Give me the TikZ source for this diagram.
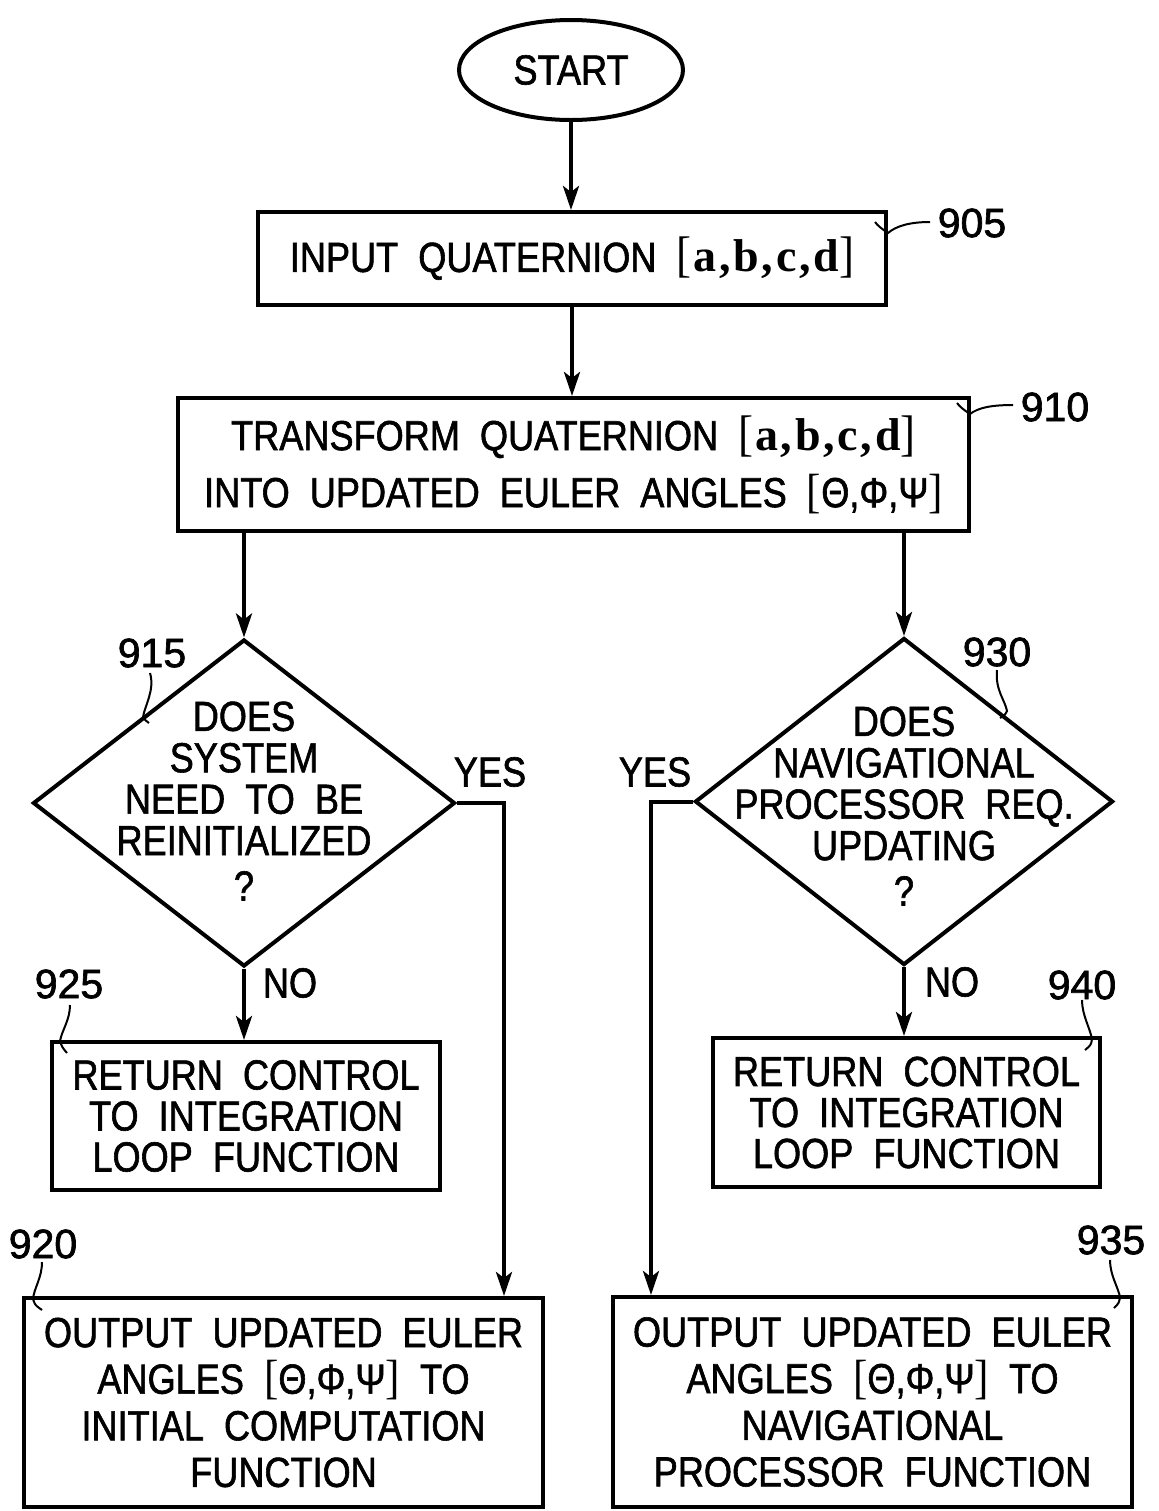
\documentclass[tikz,border=0pt]{standalone}
\usepackage{fontspec}
\setmainfont{Liberation Sans}[FakeStretch=0.86, WordSpace=2, FakeBold=1.4]
\newfontfamily\numfont{Liberation Sans}[FakeBold=1.6]
\newfontfamily\brfont{Liberation Serif}[FakeStretch=0.9]
\newfontfamily\brbfont{Liberation Serif Bold}[LetterSpace=6]
\usetikzlibrary{shapes.geometric, arrows.meta}
\newcommand\qbr[1]{{\fontsize{25}{25}\selectfont\brfont[\hspace{1pt}}{\fontsize{23}{25}\selectfont\brbfont #1}{\fontsize{25}{25}\selectfont\brfont]}}
\newcommand\ebr{{\fontsize{24}{24}\selectfont\brfont[}Θ,Φ,Ψ{\fontsize{24}{24}\selectfont\brfont]}}
\tikzset{
  box/.style={draw, line width=2pt, rectangle, inner sep=0pt, align=center, font=\fontsize{21}{23}\selectfont},
  dia/.style={draw, line width=2pt, diamond, inner sep=0pt},
  dtext/.style={align=center, inner sep=0pt, font=\fontsize{21}{20.7}\selectfont},
  lbl/.style={font=\numfont\fontsize{20.5}{24}\selectfont, inner sep=0pt},
  yn/.style={font=\fontsize{21}{24}\selectfont, inner sep=0pt},
  arr/.style={line width=2pt, -{Stealth[length=12pt,width=8pt,inset=3pt]}},
  lead/.style={line width=1pt},
  plain/.style={line width=2pt}
}
\begin{document}
\begin{tikzpicture}[x=0.5pt,y=-0.5pt]
\useasboundingbox (0,0) rectangle (1158,1511);
% nodes
\node[draw, ellipse, line width=2pt, minimum width=112pt, minimum height=50pt, inner sep=0pt, font=\fontsize{21}{24}\selectfont] (start) at (571,70) {START};
\node[box, minimum width=314pt, minimum height=46.5pt] (b905) at (572,258.5) {INPUT QUATERNION \qbr{a,b,c,d}};
\node[box, minimum width=395.5pt, minimum height=66.5pt, font=\fontsize{21}{28.5}\selectfont] (b910) at (573.5,464.5) {TRANSFORM QUATERNION \qbr{a,b,c,d}\\INTO UPDATED EULER ANGLES \ebr};
\node[dia, minimum width=211pt, minimum height=163.5pt] (d915) at (244,803) {};
\node[dtext] (t915) at (244,801) {DOES\\SYSTEM\\NEED TO BE\\REINITIALIZED\\[2pt]?};
\node[dia, minimum width=209pt, minimum height=163.5pt] (d930) at (904,801.5) {};
\node[dtext] (t930) at (904,806) {DOES\\NAVIGATIONAL\\PROCESSOR REQ.\\UPDATING\\[2pt]?};
\node[box, minimum width=194pt, minimum height=74pt, font=\fontsize{21}{20.5}\selectfont] (b925) at (246,1116) {RETURN CONTROL\\TO INTEGRATION\\LOOP FUNCTION};
\node[box, minimum width=193.5pt, minimum height=74.5pt, font=\fontsize{21}{20.5}\selectfont] (b940) at (906.5,1112.5) {RETURN CONTROL\\TO INTEGRATION\\LOOP FUNCTION};
\node[box, minimum width=259.5pt, minimum height=104.5pt, font=\fontsize{21}{23.3}\selectfont] (b920) at (283.5,1402.5) {OUTPUT UPDATED EULER\\ANGLES \ebr{} TO\\INITIAL COMPUTATION\\FUNCTION};
\node[box, minimum width=259.5pt, minimum height=105pt, font=\fontsize{21}{23.3}\selectfont] (b935) at (872.5,1402) {OUTPUT UPDATED EULER\\ANGLES \ebr{} TO\\NAVIGATIONAL\\PROCESSOR FUNCTION};
% labels
\node[lbl] (l905) at (972,223) {905};
\node[lbl] (l910) at (1055,407) {910};
\node[lbl] (l915) at (152,653) {915};
\node[lbl] (l930) at (997,652) {930};
\node[lbl] (l925) at (69,984) {925};
\node[lbl] (l940) at (1082,985) {940};
\node[lbl] (l920) at (43,1244) {920};
\node[lbl] (l935) at (1111,1240) {935};
\node[yn] (yes1) at (490,772) {YES};
\node[yn] (yes2) at (655,772) {YES};
\node[yn] (no1) at (290,983) {NO};
\node[yn] (no2) at (952,982) {NO};
% connectors
\draw[arr] (start.south) -- (start.south |- b905.north);
\draw[arr] (b905.south) -- (b905.south |- b910.north);
\draw[arr] (b910.south -| d915.north) -- (d915.north);
\draw[arr] (b910.south -| d930.north) -- (d930.north);
\draw[arr] (d915.south) -- (d915.south |- b925.north);
\draw[arr] (d930.south) -- (d930.south |- b940.north);
\coordinate (y1) at (504,803);
\draw[arr] (d915.east) -- (y1) -- (y1 |- b920.north);
\coordinate (y2) at (651,801.5);
\draw[arr] (d930.west) -- (y2) -- (y2 |- b935.north);
% leaders
\draw[lead] (930,222) .. controls (910,222) and (896,226) .. (888,233) .. controls (882,229) and (878,226) .. (875,222);
\draw[lead] (1013,405) .. controls (990,405) and (978,408) .. (970,414) .. controls (964,410) and (960,407) .. (957,403);
\draw[lead] (150,673) .. controls (155,690) and (145,705) .. (143,717) .. controls (145,720) .. (149,723);
\draw[lead] (997,670) .. controls (995,690) and (1005,700) .. (1007,711) .. controls (1005,715) .. (1000,718);
\draw[lead] (70,1005) .. controls (70,1020) and (62,1030) .. (60,1041) .. controls (62,1047) .. (67,1053);
\draw[lead] (1082,1000) .. controls (1082,1015) and (1090,1028) .. (1092,1039) .. controls (1091,1045) .. (1085,1050);
\draw[lead] (42,1262) .. controls (42,1278) and (34,1288) .. (33,1299) .. controls (35,1305) .. (42,1310);
\draw[lead] (1110,1260) .. controls (1110,1275) and (1118,1287) .. (1120,1297) .. controls (1119,1303) .. (1114,1308);
\end{tikzpicture}
\end{document}
